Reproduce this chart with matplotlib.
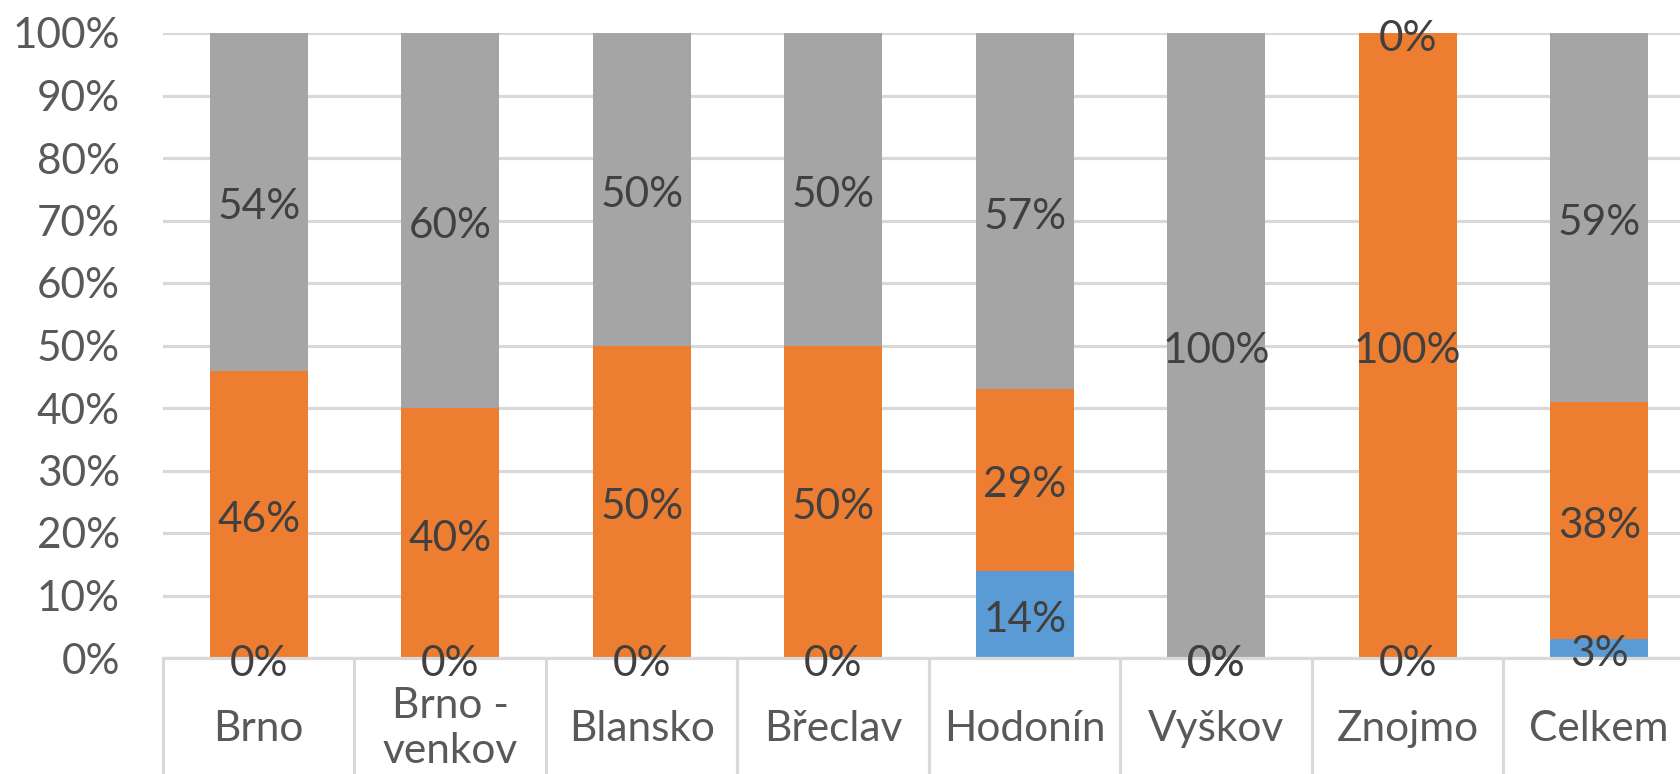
import matplotlib.pyplot as plt
import numpy as np

plt.rcParams['font.family'] = ['Lato', 'DejaVu Sans']

# Share of each answer per district (fractions of 1)
districts = ['Brno', 'Brno -\nvenkov', 'Blansko', 'Břeclav', 'Hodonín', 'Vyškov', 'Znojmo', 'Celkem']
share_blue = [0.00, 0.00, 0.00, 0.00, 0.14, 0.00, 0.00, 0.03]
share_orange = [0.46, 0.40, 0.50, 0.50, 0.29, 0.00, 1.00, 0.38]
share_gray = [0.54, 0.60, 0.50, 0.50, 0.57, 1.00, 0.00, 0.59]
y_ticks = [0.0, 0.1, 0.2, 0.3, 0.4, 0.5, 0.6, 0.7, 0.8, 0.9, 1.0]

colors = ['#5B9BD5', '#ED7D31', '#A5A5A5']
grid_color = '#D9D9D9'
text_color = '#404040'
font_size = 30.5

W, H = 1681, 774
fig = plt.figure(figsize=(W / 100, H / 100), dpi=100)
# plot area runs slightly past the right edge of the image
left_px, right_px, top_px, zero_px = 163, 1695, 33, 658
ax = fig.add_axes([left_px / W, 1 - zero_px / H,
                   (right_px - left_px) / W, (zero_px - top_px) / H])

x = np.arange(len(districts))
bottom = np.zeros(len(districts))
for values, color in zip([share_blue, share_orange, share_gray], colors):
    values = np.array(values)
    ax.bar(x, values, width=0.51, bottom=bottom, color=color, zorder=2)
    for xi, b, v in zip(x, bottom, values):
        ax.annotate(f'{v:.0%}', (xi, b + v / 2), xytext=(0, -4), textcoords='offset points',
                    ha='center', va='center', fontsize=font_size, color=text_color,
                    zorder=3, annotation_clip=False)
    bottom += values

ax.set_xlim(-0.5, len(districts) - 0.5)
ax.set_ylim(0, 1)

# horizontal gridlines
ax.set_yticks(y_ticks)
ax.set_yticklabels([f'{t:.0%}' for t in y_ticks])
ax.yaxis.grid(True, color=grid_color, linewidth=2.3, zorder=0)
ax.set_axisbelow(True)
ax.tick_params(axis='y', length=0, pad=31, labelsize=font_size, labelcolor='#595959')

# category separators hang below the zero line, labels sit between them
sep_len = (H - zero_px) / 100 * 72
ax.set_xticks(np.arange(len(districts) + 1) - 0.5)
ax.set_xticklabels([])
ax.tick_params(axis='x', which='major', length=sep_len, width=2.3, color=grid_color, direction='out')
ax.set_xticks(x, minor=True)
ax.set_xticklabels(districts, minor=True)
ax.tick_params(axis='x', which='minor', length=0, pad=51, labelsize=font_size, labelcolor='#595959')
for lbl in ax.get_xticklabels(minor=True):
    lbl.set_verticalalignment('center')
    lbl.set_linespacing(1.22)

for side in ['left', 'right', 'top']:
    ax.spines[side].set_visible(False)
ax.spines['bottom'].set_color(grid_color)
ax.spines['bottom'].set_linewidth(2.3)

fig.savefig('out.png', dpi=100)
